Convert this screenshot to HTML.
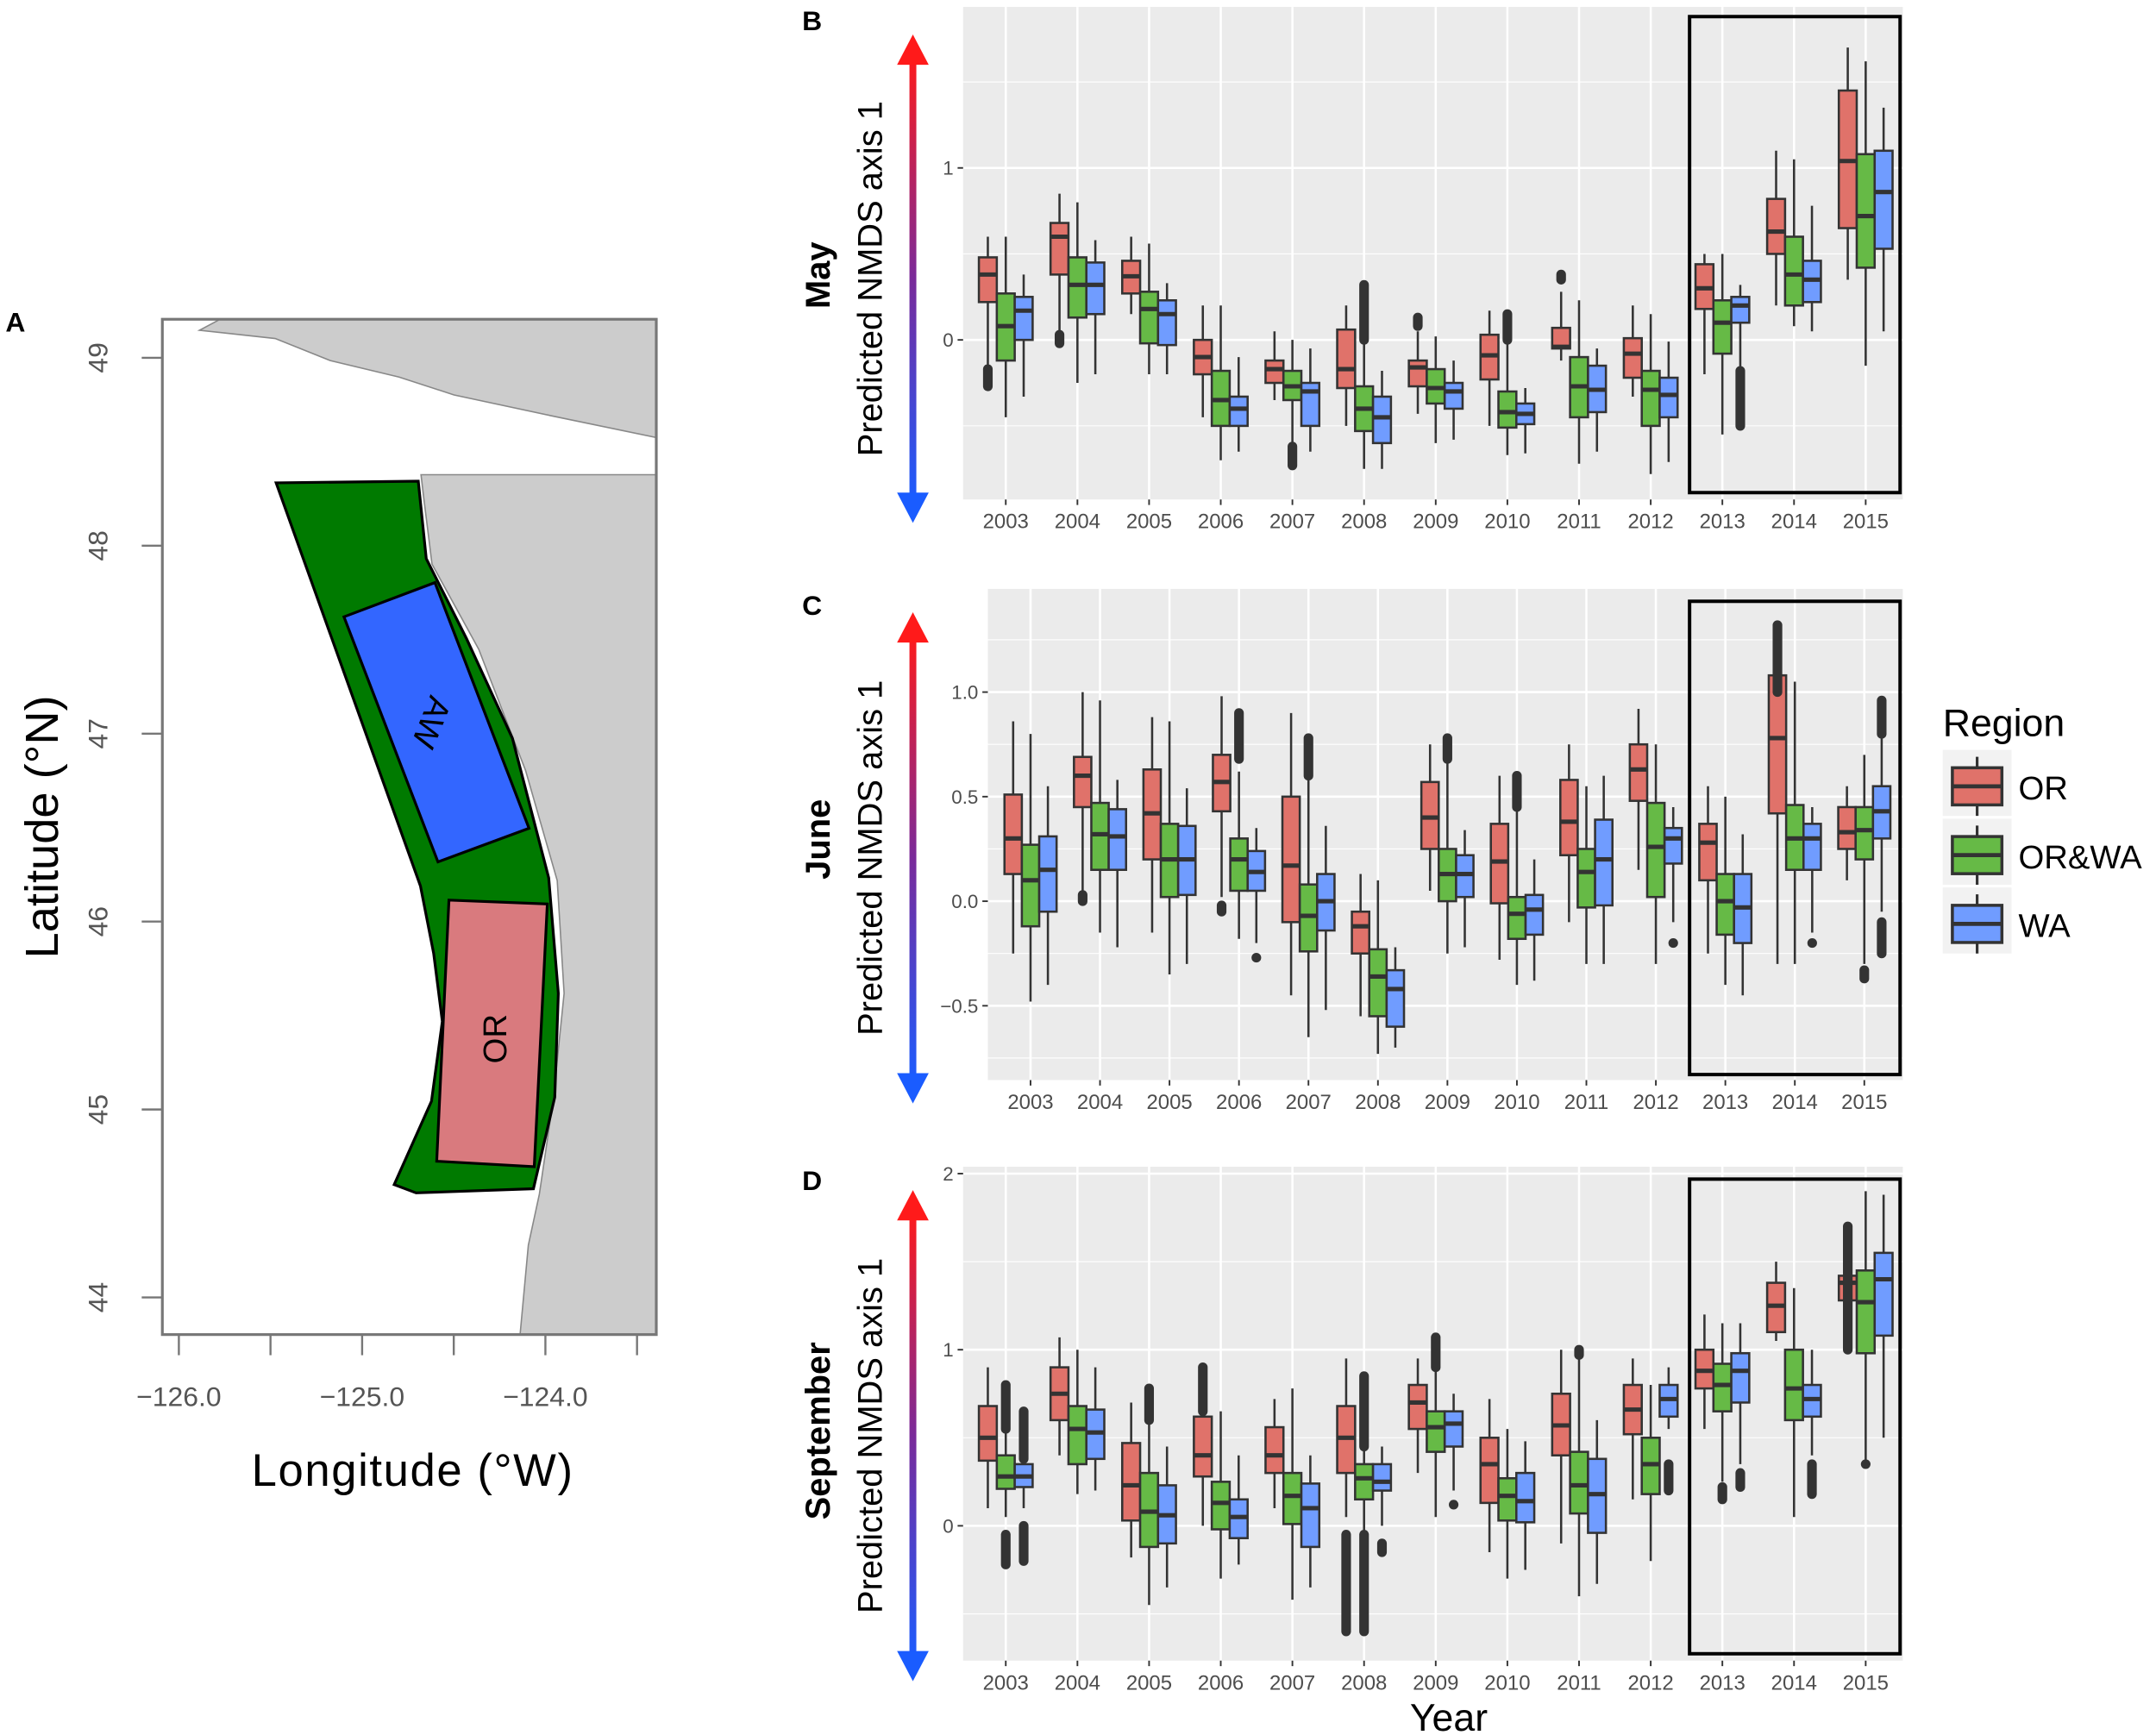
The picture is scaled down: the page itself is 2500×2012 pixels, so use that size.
<!DOCTYPE html>
<html><head><meta charset="utf-8"><style>
html,body{margin:0;padding:0;background:#fff;}
svg{display:block;font-family:"Liberation Sans",sans-serif;}
</style></head><body>
<svg id="fig" width="2500" height="2012" viewBox="0 0 1567 1261" xmlns="http://www.w3.org/2000/svg">
<defs>
<linearGradient id="arrowGrad" x1="0" y1="0" x2="0" y2="1">
<stop offset="0" stop-color="#ff1a1a"/><stop offset="0.5" stop-color="#7a2a9a"/><stop offset="1" stop-color="#1a5cff"/>
</linearGradient>
</defs>
<g id="mapPanel">
<text x="4" y="241" font-size="20" font-weight="bold">A</text>
<rect x="118" y="232" width="359" height="738" fill="#fff"/>
<polygon fill="#cccccc" stroke="#888" stroke-width="1" points="145,240 160,232 477,232 477,318 400,302 330,287 290,274 240,262 200,246"/>
<polygon fill="#cccccc" stroke="#888" stroke-width="1" points="306,345 477,345 477,970 378,970 384,905 392,868 402,800 410,722 405,640 382,560 348,472 314,410 308,362"/>
<polygon fill="#007a00" stroke="#000" stroke-width="2" points="200.7,350.9 304,349.7 309.8,406 339,464 372.4,536.5 398.8,638 405.8,722 403.2,797.5 387.7,864 302.4,867 286.5,861 313.6,800.4 321.5,742.4 315.2,693 305.6,644"/>
<polygon fill="#3366ff" stroke="#000" stroke-width="2" points="250,448.3 316.1,423.4 384.5,602 318.3,626.4"/>
<polygon fill="#d97a7e" stroke="#000" stroke-width="2" points="326.3,654.2 397.8,657 388.3,848 317.4,844"/>
<text x="0" y="0" font-size="24" transform="matrix(0.37,-0.93,-0.93,-0.37,306,522)" text-anchor="middle">WA</text>
<text x="0" y="0" font-size="24" transform="translate(368,755) rotate(-90)" text-anchor="middle">OR</text>
<rect x="118" y="232" width="359" height="738" fill="none" stroke="#777" stroke-width="2"/>
<g id="mapAxes"></g>
<text transform="translate(42,601) rotate(-90)" text-anchor="middle" font-size="34">Latitude (°N)</text>
<text x="300" y="1080" text-anchor="middle" font-size="33" letter-spacing="1">Longitude (°W)</text>
</g>
<g id="charts"></g>
<g id="legend">
<text x="1412" y="535" font-size="28">Region</text>
</g>
<text x="1053" y="1258" text-anchor="middle" font-size="28">Year</text>
</svg>
<script>
const NS="http://www.w3.org/2000/svg";
function mk(tag,attrs,parent){const e=document.createElementNS(NS,tag);for(const k in attrs)e.setAttribute(k,attrs[k]);parent.appendChild(e);return e;}

const years=["2003","2004","2005","2006","2007","2008","2009","2010","2011","2012","2013","2014","2015"];
const regions=["OR","OR&WA","WA"];
const latTicks=["49","48","47","46","45","44"];
const lonTicks=["-126.0","-125.0","-124.0"];

// [low whisker, q1, median, q3, high whisker]
const mayOR=[[-0.15,0.22,0.38,0.48,0.6],[0.05,0.38,0.6,0.68,0.85],[0.15,0.27,0.37,0.46,0.6],[-0.45,-0.2,-0.1,0,0.2],[-0.35,-0.25,-0.17,-0.12,0.05],[-0.5,-0.28,-0.17,0.06,0.2],[-0.43,-0.27,-0.16,-0.12,0.05],[-0.5,-0.23,-0.09,0.03,0.17],[-0.12,-0.05,-0.04,0.07,0.28],[-0.33,-0.22,-0.08,0.01,0.2],[-0.2,0.18,0.3,0.44,0.5],[0.2,0.5,0.63,0.82,1.1],[0.35,0.65,1.04,1.45,1.7]];
const mayORWA=[[-0.45,-0.12,0.08,0.27,0.6],[-0.25,0.13,0.32,0.48,0.8],[-0.2,-0.02,0.18,0.28,0.56],[-0.7,-0.5,-0.35,-0.18,0.2],[-0.6,-0.35,-0.27,-0.18,0],[-0.75,-0.53,-0.4,-0.27,-0.02],[-0.6,-0.37,-0.28,-0.17,0.02],[-0.67,-0.51,-0.42,-0.3,-0.02],[-0.72,-0.45,-0.27,-0.1,0.23],[-0.78,-0.5,-0.29,-0.18,0.15],[-0.55,-0.08,0.1,0.23,0.5],[0.08,0.2,0.38,0.6,1.05],[-0.15,0.42,0.72,1.08,1.62]];
const mayWA=[[-0.33,0,0.17,0.25,0.38],[-0.2,0.15,0.32,0.45,0.58],[-0.2,-0.03,0.15,0.23,0.33],[-0.65,-0.5,-0.4,-0.33,-0.1],[-0.65,-0.5,-0.3,-0.25,-0.05],[-0.75,-0.6,-0.45,-0.33,-0.18],[-0.58,-0.4,-0.3,-0.25,-0.12],[-0.66,-0.49,-0.43,-0.37,-0.28],[-0.65,-0.42,-0.29,-0.15,-0.05],[-0.71,-0.45,-0.32,-0.22,-0.01],[-0.16,0.1,0.2,0.25,0.32],[0.05,0.22,0.35,0.46,0.78],[0.05,0.53,0.86,1.1,1.35]];
// outlier runs: [yearIndex, regionIndex, from, to]
const mayOut=[[0,0,-0.17,-0.27],[1,0,-0.02,0.03],[4,1,-0.62,-0.73],[5,1,0.0,0.32],[6,0,0.08,0.13],[7,1,0.0,0.15],[8,0,0.35,0.38],[10,2,-0.18,-0.5]];

const junOR=[[-0.25,0.13,0.3,0.51,0.86],[0.05,0.45,0.6,0.69,1.0],[-0.15,0.2,0.42,0.63,0.88],[0.02,0.43,0.57,0.7,0.98],[-0.45,-0.1,0.17,0.5,0.9],[-0.55,-0.25,-0.12,-0.05,0.13],[0.05,0.25,0.4,0.57,0.75],[-0.28,-0.01,0.19,0.37,0.6],[-0.1,0.22,0.38,0.58,0.75],[0.15,0.48,0.63,0.75,0.92],[-0.25,0.1,0.28,0.37,0.55],[-0.3,0.42,0.78,1.08,1.32],[0.1,0.25,0.33,0.45,0.55]];
const junORWA=[[-0.48,-0.12,0.1,0.27,0.8],[-0.15,0.15,0.32,0.47,0.96],[-0.35,0.02,0.2,0.37,0.86],[-0.18,0.05,0.2,0.3,0.62],[-0.65,-0.24,-0.07,0.08,0.6],[-0.73,-0.55,-0.36,-0.23,0.1],[-0.25,0,0.13,0.25,0.68],[-0.4,-0.18,-0.06,0.02,0.45],[-0.3,-0.03,0.14,0.25,0.55],[-0.3,0.02,0.26,0.47,0.75],[-0.4,-0.16,0,0.13,0.5],[-0.3,0.15,0.3,0.46,1.05],[-0.3,0.2,0.34,0.45,0.7]];
const junWA=[[-0.4,-0.05,0.15,0.31,0.55],[-0.22,0.15,0.31,0.44,0.58],[-0.3,0.03,0.2,0.36,0.54],[-0.2,0.05,0.14,0.24,0.35],[-0.52,-0.14,0,0.13,0.36],[-0.7,-0.6,-0.42,-0.33,-0.22],[-0.22,0.02,0.13,0.22,0.34],[-0.38,-0.16,-0.04,0.03,0.2],[-0.3,-0.02,0.2,0.39,0.6],[-0.1,0.18,0.3,0.35,0.45],[-0.45,-0.2,-0.03,0.13,0.32],[-0.15,0.15,0.3,0.37,0.45],[-0.05,0.3,0.43,0.55,0.78]];
const junOut=[[1,0,0,0.03],[3,0,-0.05,-0.02],[3,1,0.68,0.9],[3,2,-0.27,-0.27],[4,1,0.6,0.78],[6,1,0.68,0.78],[7,1,0.45,0.6],[9,2,-0.2,-0.2],[11,2,-0.2,-0.2],[11,0,1.0,1.32],[12,2,0.8,0.96],[12,2,-0.1,-0.25],[12,1,-0.33,-0.37]];

const sepOR=[[0.1,0.37,0.5,0.68,0.9],[0.4,0.6,0.75,0.9,1.07],[-0.18,0.03,0.23,0.47,0.7],[0,0.28,0.4,0.62,0.9],[0.1,0.3,0.4,0.56,0.72],[0.05,0.3,0.5,0.68,0.95],[0.3,0.55,0.7,0.8,0.95],[-0.15,0.13,0.35,0.5,0.72],[-0.1,0.4,0.57,0.75,1.0],[0.15,0.52,0.66,0.8,0.95],[0.55,0.78,0.88,1.0,1.2],[1.05,1.1,1.25,1.38,1.5],[1.05,1.28,1.38,1.42,1.65]];
const sepORWA=[[0.05,0.21,0.28,0.4,0.55],[0.18,0.35,0.55,0.68,1.0],[-0.45,-0.12,0.08,0.3,0.6],[-0.3,-0.02,0.13,0.25,0.65],[-0.42,0.01,0.17,0.3,0.78],[-0.05,0.15,0.27,0.35,0.45],[0.05,0.42,0.56,0.65,0.9],[-0.3,0.03,0.17,0.27,0.55],[-0.4,0.07,0.23,0.42,0.95],[-0.2,0.18,0.35,0.5,0.8],[0.25,0.65,0.8,0.92,1.15],[0.05,0.6,0.78,1.0,1.35],[0.35,0.98,1.27,1.45,1.9]];
const sepWA=[[0.1,0.22,0.28,0.35,0.35],[0.2,0.38,0.53,0.66,0.9],[-0.35,-0.1,0.06,0.23,0.45],[-0.22,-0.07,0.05,0.15,0.4],[-0.35,-0.12,0.1,0.24,0.4],[0,0.2,0.25,0.35,0.45],[0.2,0.45,0.58,0.65,0.75],[-0.25,0.02,0.14,0.3,0.48],[-0.33,-0.04,0.18,0.38,0.6],[0.55,0.62,0.72,0.8,0.9],[0.35,0.7,0.88,0.98,1.15],[0.4,0.62,0.72,0.8,1.0],[0.5,1.08,1.4,1.55,1.88]];
const sepOut=[[0,1,0.55,0.8],[0,1,-0.05,-0.22],[0,2,0.38,0.65],[0,2,0.0,-0.2],[2,1,0.6,0.78],[3,0,0.65,0.9],[5,0,-0.05,-0.6],[5,1,0.45,0.85],[5,1,-0.05,-0.6],[5,2,-0.1,-0.15],[6,1,0.9,1.07],[6,2,0.12,0.12],[8,1,0.97,1.0],[9,2,0.2,0.35],[10,1,0.15,0.22],[10,2,0.22,0.3],[11,2,0.18,0.35],[12,0,1.0,1.7],[12,1,0.35,0.35]];

const fills=["#e0726a","#66ba46","#709cff"];

const panels=[
 {name:"may",letter:"B",month:"May",L:700,R:1383,T:5,B:363,x0:731,x1:1356,v0:0,p0:247,ppu:125,ticks:[0,1],tickLbl:["0","1"],minor:[-0.5,0.5,1.5],data:[mayOR,mayORWA,mayWA],out:mayOut,hl:[1228,12,1381,358],arrow:[25,380],lab:[583,22],monthY:200},
 {name:"june",letter:"C",month:"June",L:718,R:1383,T:428,B:785,x0:749,x1:1355,v0:0,p0:655,ppu:152,ticks:[-0.5,0,0.5,1],tickLbl:["-0.5","0.0","0.5","1.0"],minor:[-0.75,-0.25,0.25,0.75,1.25],data:[junOR,junORWA,junWA],out:junOut,hl:[1228,437,1381,781],arrow:[445,802],lab:[583,447],monthY:610},
 {name:"september",letter:"D",month:"September",L:700,R:1383,T:848,B:1207,x0:731,x1:1356,v0:0,p0:1109,ppu:128,ticks:[0,1,2],tickLbl:["0","1","2"],minor:[-0.5,0.5,1.5],data:[sepOR,sepORWA,sepWA],out:sepOut,hl:[1228,857,1381,1202],arrow:[865,1222],lab:[583,865],monthY:1040}
];

const charts=document.getElementById('charts');
panels.forEach(p=>{
 const g=mk('g',{},charts);
 
 
 const sp=(p.x1-p.x0)/(years.length-1);
 const xs=i=>p.x0+i*sp;
 const ys=v=>p.p0-(v-p.v0)*p.ppu;
 const bg=mk('rect',{x:p.L,y:p.T,width:p.R-p.L,height:p.B-p.T,fill:'#ebebeb'},g);
 
 
 p.minor.forEach(v=>{const y=ys(v);if(y>p.T&&y<p.B){const l=mk('line',{x1:p.L,x2:p.R,y1:y,y2:y,stroke:'#fff','stroke-width':0.7},g);}});
 p.ticks.forEach((v,i)=>{const y=ys(v);
  const l=mk('line',{x1:p.L,x2:p.R,y1:y,y2:y,stroke:'#fff','stroke-width':1.6},g);
  
  
  const t=mk('line',{x1:p.L-4,x2:p.L,y1:y,y2:y,stroke:'#333','stroke-width':1.2},g);
  
  
  const tx=mk('text',{x:p.L-7,y:y+5,'text-anchor':'end','font-size':14,fill:'#4d4d4d'},g);
  tx.textContent=p.tickLbl[i].replace('-','\u2212');
  
  
 });
 years.forEach((yr,i)=>{const x=xs(i);
  const l=mk('line',{x1:x,x2:x,y1:p.T,y2:p.B,stroke:'#fff','stroke-width':1.6},g);
  
  
  const t=mk('line',{x1:x,x2:x,y1:p.B,y2:p.B+4,stroke:'#333','stroke-width':1.2},g);
  
  
  const tx=mk('text',{x:x,y:p.B+21,'text-anchor':'middle','font-size':15,fill:'#4d4d4d'},g);
  tx.textContent=yr;
  
  
 });
 const bw=sp*0.25;
 p.data.forEach((series,r)=>{
  series.forEach((d,i)=>{
   const cx=xs(i)+(r-1)*bw;
   const bg2=mk('g',{},g);
   
   
   mk('line',{x1:cx,x2:cx,y1:ys(d[0]),y2:ys(d[4]),stroke:'#333','stroke-width':1.6},bg2);
   mk('rect',{x:cx-bw/2,y:ys(d[3]),width:bw,height:ys(d[1])-ys(d[3]),fill:fills[r],stroke:'#333','stroke-width':1.6},bg2);
   mk('line',{x1:cx-bw/2,x2:cx+bw/2,y1:ys(d[2]),y2:ys(d[2]),stroke:'#333','stroke-width':3.2},bg2);
  });
 });
 p.out.forEach(o=>{
  const cx=xs(o[0])+(o[1]-1)*bw;
  const l=mk('line',{x1:cx,x2:cx,y1:ys(o[2]),y2:ys(o[3]),stroke:'#333','stroke-width':7,'stroke-linecap':'round'},g);
  
  
 });
 const hl=mk('rect',{x:p.hl[0],y:p.hl[1],width:p.hl[2]-p.hl[0],height:p.hl[3]-p.hl[1],fill:'none',stroke:'#000','stroke-width':2.5},g);
 
 
 const lt=mk('text',{x:p.lab[0],y:p.lab[1],'font-size':20,'font-weight':'bold'},g);
 lt.textContent=p.letter;
 
 
 const mt=mk('text',{transform:'translate(603,'+p.monthY+') rotate(-90)','text-anchor':'middle','font-size':25,'font-weight':'bold'},g);
 mt.textContent=p.month;
 
 
 const at=mk('text',{transform:'translate(641,'+((p.arrow[0]+p.arrow[1])/2)+') rotate(-90)','text-anchor':'middle','font-size':25},g);
 at.textContent='Predicted NMDS axis 1';
 
 
 const ag=mk('g',{},g);
 
 
 mk('rect',{x:661,y:p.arrow[0]+14,width:5,height:p.arrow[1]-p.arrow[0]-28,fill:'url(#arrowGrad)'},ag);
 mk('polygon',{points:`663.5,${p.arrow[0]} 652,${p.arrow[0]+22} 675,${p.arrow[0]+22}`,fill:'#ff1a1a'},ag);
 mk('polygon',{points:`663.5,${p.arrow[1]} 652,${p.arrow[1]-22} 675,${p.arrow[1]-22}`,fill:'#1a5cff'},ag);
});

// legend
const lg=document.getElementById('legend');
regions.forEach((r,i)=>{
 const y=555+i*50;
 const k=mk('g',{},lg);
 
 
 mk('rect',{x:1412,y:y-10,width:50,height:48,fill:'#f2f2f2'},k);
 mk('line',{x1:1437,x2:1437,y1:y-5,y2:y+38,stroke:'#333','stroke-width':2},k);
 mk('rect',{x:1419,y:y+3,width:36,height:27,fill:fills[i],stroke:'#333','stroke-width':2.2},k);
 mk('line',{x1:1419,x2:1455,y1:y+16.5,y2:y+16.5,stroke:'#333','stroke-width':3},k);
 const t=mk('text',{x:1467,y:y+26,'font-size':24},k);
 t.textContent=r;
});

// map axes
const ma=document.getElementById('mapAxes');
latTicks.forEach((l,i)=>{
 const y=260+i*136.6;
 mk('line',{x1:103,x2:118,y1:y,y2:y,stroke:'#777','stroke-width':1.5},ma);
 const t=mk('text',{transform:`translate(78,${y}) rotate(-90)`,'text-anchor':'middle','font-size':20,fill:'#555'},ma);
 t.textContent=l;
 
 
});
for(let i=0;i<6;i++){const x=130+i*66.6;mk('line',{x1:x,x2:x,y1:970,y2:985,stroke:'#777','stroke-width':1.5},ma);}
lonTicks.forEach((l,i)=>{
 const x=130+i*133.2;
 const t=mk('text',{x:x,y:1022,'text-anchor':'middle','font-size':20,fill:'#555'},ma);
 t.textContent=l.replace('-','\u2212');
 
 
});
</script>
</body></html>
